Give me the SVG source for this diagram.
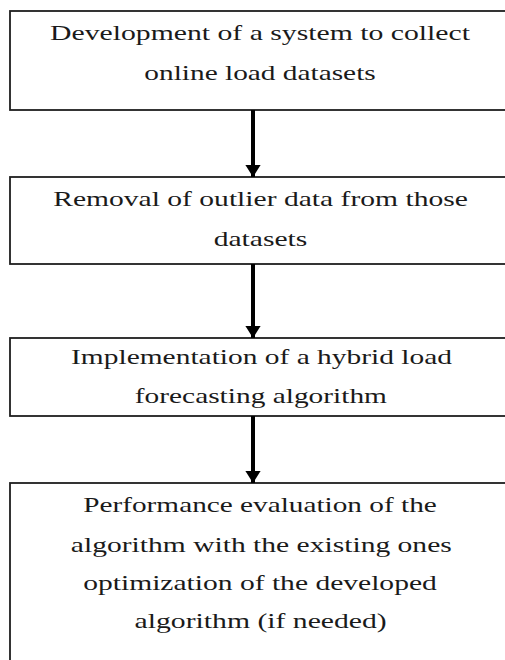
<svg xmlns="http://www.w3.org/2000/svg" width="505" height="660" viewBox="0 0 505 660">
<style>
.box{fill:#fff;stroke:#1e1e1e;stroke-width:1.8}
.t{font-family:'Liberation Serif','DejaVu Serif',serif;font-size:21px;fill:#1a1a1a;text-anchor:middle}
.ln{stroke:#000;stroke-width:4}
</style>
<defs>
<marker id="ah" markerWidth="3" markerHeight="3.8" refX="3" refY="1.9" orient="auto" markerUnits="strokeWidth">
<path d="M0,0 L3,1.9 L0,3.8 z" fill="#000"/>
</marker>
</defs>
<rect width="505" height="660" fill="#fff"/>
<g id="node1">
<rect class="box" x="10" y="11" width="520" height="99"/>
<g transform="translate(260,0) scale(1.3,1)">
<text class="t" x="0" y="40" textLength="323" lengthAdjust="spacingAndGlyphs">Development of a system to collect</text>
<text class="t" x="0" y="80" textLength="178" lengthAdjust="spacingAndGlyphs">online load datasets</text>
</g>
</g>
<g id="node2">
<rect class="box" x="10" y="177" width="520" height="87"/>
<g transform="translate(260.5,0) scale(1.3,1)">
<text class="t" x="0" y="206" textLength="319" lengthAdjust="spacingAndGlyphs">Removal of outlier data from those</text>
<text class="t" x="0" y="246" textLength="72" lengthAdjust="spacingAndGlyphs">datasets</text>
</g>
</g>
<g id="node3">
<rect class="box" x="10" y="338" width="520" height="78"/>
<g transform="translate(261.5,0) scale(1.3,1)">
<text class="t" x="0" y="364" textLength="293" lengthAdjust="spacingAndGlyphs">Implementation of a hybrid load</text>
<text class="t" x="-0.5" y="403" textLength="194" lengthAdjust="spacingAndGlyphs">forecasting algorithm</text>
</g>
</g>
<g id="node4">
<rect class="box" x="10" y="483" width="520" height="200"/>
<g transform="translate(260,0) scale(1.3,1)">
<text class="t" x="0" y="512" textLength="272" lengthAdjust="spacingAndGlyphs">Performance evaluation of the</text>
<text class="t" x="1" y="552" textLength="293" lengthAdjust="spacingAndGlyphs">algorithm with the existing ones</text>
<text class="t" x="0" y="590" textLength="272" lengthAdjust="spacingAndGlyphs">optimization of the developed</text>
<text class="t" x="0.5" y="628" textLength="194" lengthAdjust="spacingAndGlyphs">algorithm (if needed)</text>
</g>
</g>
<g id="connectors">
<line class="ln" x1="253" y1="110" x2="253" y2="177" marker-end="url(#ah)"/>
<line class="ln" x1="253" y1="264" x2="253" y2="338" marker-end="url(#ah)"/>
<line class="ln" x1="253" y1="416" x2="253" y2="483" marker-end="url(#ah)"/>
</g>
</svg>
